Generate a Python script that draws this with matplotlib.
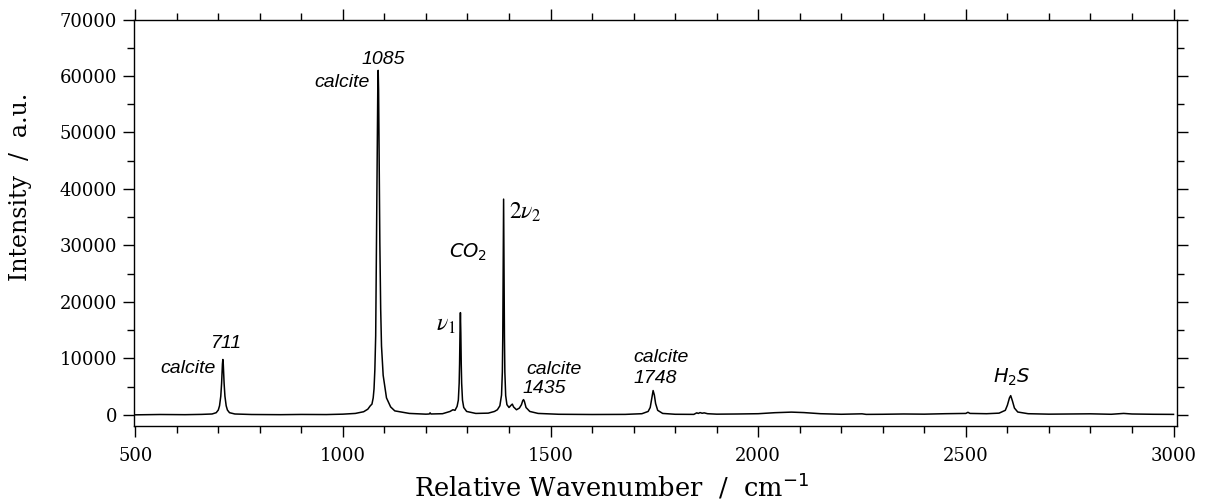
import matplotlib.pyplot as plt
from matplotlib.ticker import MultipleLocator

# Raman spectrum (wavenumber in cm-1, intensity in a.u.)
wavenumber = [
    500, 560, 620, 660, 685, 695, 700, 703, 706, 708, 709, 710, 711, 712, 713, 714, 716, 719, 722, 727,
    740, 780, 850, 900, 960, 1000, 1030, 1050, 1060, 1066, 1070, 1073, 1075, 1077, 1079, 1081, 1082, 1083,
    1084, 1085, 1086, 1087, 1088, 1089, 1091, 1093, 1097, 1105, 1115, 1125, 1160, 1200, 1208, 1210, 1212,
    1240, 1258, 1265, 1270, 1275, 1278, 1280, 1281, 1282, 1283, 1284, 1285, 1286, 1288, 1291, 1298, 1320,
    1350, 1365, 1372, 1378, 1382, 1384, 1385, 1386, 1387, 1388, 1389, 1390, 1392, 1395, 1400, 1405, 1408,
    1411, 1418, 1425, 1430, 1433, 1435, 1437, 1441, 1450, 1470, 1520, 1600, 1680, 1720, 1735, 1740, 1744,
    1747, 1750, 1753, 1758, 1770, 1800, 1845, 1852, 1856, 1860, 1865, 1870, 1878, 1900, 1950, 2000, 2040,
    2080, 2110, 2150, 2200, 2250, 2260, 2300, 2350, 2400, 2450, 2500, 2505, 2510, 2550, 2580, 2595, 2600,
    2605, 2608, 2612, 2617, 2625, 2650, 2700, 2800, 2850, 2880, 2900, 2950, 3000,
]
intensity = [
    0, 60, 30, 80, 150, 380, 850, 1600, 3300, 5600, 7400, 9000, 9800, 9000, 7400, 5600, 3300, 1600, 850, 380,
    150, 60, 30, 70, 50, 120, 250, 550, 1000, 1600, 1900, 3000, 4600, 8000, 14000, 30500, 39000, 48800,
    57400, 61000, 57400, 48800, 39000, 30500, 18800, 12200, 7000, 3000, 1400, 700, 250, 120, 150, 350, 150,
    200, 600, 900, 800, 1500, 2600, 5600, 9000, 14500, 18100, 14500, 9000, 5600, 2600, 1300, 600, 250,
    300, 600, 900, 1600, 3500, 7600, 13800, 26400, 38200, 26400, 13800, 7600, 3400, 1800, 1300, 1700, 1900,
    1400, 900, 1200, 1800, 2500, 2700, 2400, 1300, 600, 250, 100, 60, 80, 200, 600, 1300, 3000,
    4300, 3500, 2000, 800, 250, 100, 80, 350, 250, 400, 280, 350, 200, 120, 150, 200, 380,
    480, 400, 200, 100, 180, 80, 100, 150, 120, 200, 250, 450, 250, 200, 300, 800, 1700,
    3000, 3400, 2500, 1200, 500, 200, 120, 180, 100, 250, 150, 100, 80,
]

x_ticks = [500, 1000, 1500, 2000, 2500, 3000]
y_ticks = [0, 10000, 20000, 30000, 40000, 50000, 60000, 70000]

label_font = "DejaVu Serif"
note = dict(family="Liberation Sans", style="italic", fontsize=14)

fig = plt.figure(figsize=(12.07, 5.01), dpi=100)
ax = fig.add_axes([0.111, 0.150, 0.864, 0.811])

ax.plot(wavenumber, intensity, color="black", linewidth=1.1)

ax.set_xlim(497, 3008)
ax.set_ylim(-1950, 70000)
ax.set_xticks(x_ticks)
ax.set_yticks(y_ticks)
ax.xaxis.set_minor_locator(MultipleLocator(100))
ax.yaxis.set_minor_locator(MultipleLocator(5000))
ax.tick_params(which="both", direction="out", top=True, right=True, width=1, labelsize=13)
ax.tick_params(axis="x", pad=7)
ax.tick_params(axis="y", pad=4)
ax.tick_params(which="major", length=8)
ax.tick_params(which="minor", length=5)
for lab in ax.get_xticklabels() + ax.get_yticklabels():
    lab.set_family(label_font)
for s in ax.spines.values():
    s.set_linewidth(1.0)

ax.set_xlabel(r"Relative Wavenumber  /  cm$^{-1}$", family=label_font, fontsize=18.5)
ax.set_ylabel("Intensity  /  a.u.", family=label_font, fontsize=17)
ax.xaxis.set_label_coords(0.458, -0.112)
ax.yaxis.set_label_coords(-0.098, 0.589)

# peak annotations
ax.text(719, 12700, "711", ha="center", va="center", **note)
ax.text(695, 8150, "calcite", ha="right", va="center", **note)
ax.text(1097, 62900, "1085", ha="center", va="center", **note)
ax.text(1065, 58800, "calcite", ha="right", va="center", **note)
ax.text(1272, 16000, r"$\nu_1$", ha="right", va="center", fontsize=17, math_fontfamily="stix")
ax.text(1301, 28700, r"$\mathit{CO_2}$", ha="center", va="center", fontsize=14, math_fontfamily="dejavusans")
ax.text(1400, 36000, r"$2\nu_2$", ha="left", va="center", fontsize=17, math_fontfamily="stix")
ax.text(1441, 8000, "calcite", ha="left", va="center", **note)
ax.text(1432, 4600, "1435", ha="left", va="center", **note)
ax.text(1700, 10100, "calcite", ha="left", va="center", **note)
ax.text(1700, 6400, "1748", ha="left", va="center", **note)
ax.text(2610, 6550, r"$\mathit{H_2S}$", ha="center", va="center", fontsize=14, math_fontfamily="dejavusans")

fig.savefig("out.png", dpi=100)
